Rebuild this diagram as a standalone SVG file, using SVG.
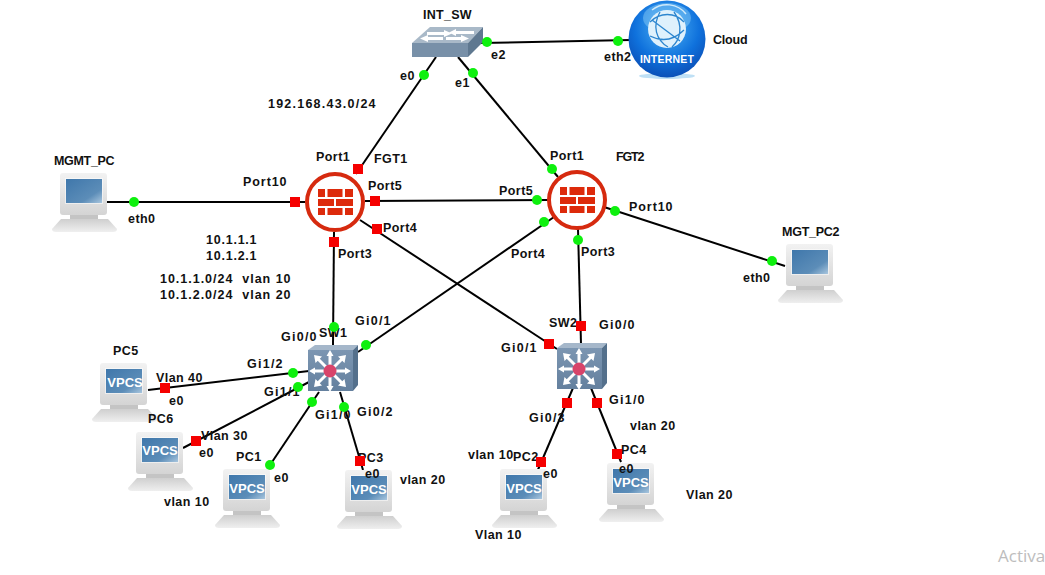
<svg xmlns="http://www.w3.org/2000/svg" width="1045" height="575" viewBox="0 0 1045 575">
<style>
text{font-family:"Liberation Sans",Arial,sans-serif;font-weight:700;font-size:12.5px;fill:#111;letter-spacing:.45px}
.ln{stroke:#000;stroke-width:2;fill:none}
.ok{fill:#0ef00e}
.dn{fill:#f50000}
.vp{font-size:13px;fill:#fff;letter-spacing:0;text-anchor:middle}
.wm{font-family:"Open Sans","Liberation Sans",sans-serif;font-weight:400;font-size:17px;fill:#bdbdbd;letter-spacing:0}
</style>
<defs>
<linearGradient id="bez" x1="0" y1="0" x2="0" y2="1"><stop offset="0" stop-color="#f2f2f2"/><stop offset="1" stop-color="#d4d4d4"/></linearGradient>
<linearGradient id="kbd" x1="0" y1="0" x2="0" y2="1"><stop offset="0" stop-color="#cfcfcf"/><stop offset="1" stop-color="#efefef"/></linearGradient>
<linearGradient id="scr" x1="0" y1="0" x2="1" y2="1"><stop offset="0" stop-color="#3f77ab"/><stop offset=".7" stop-color="#5c8db8"/><stop offset="1" stop-color="#a9c6de"/></linearGradient>
<radialGradient id="glb" cx=".5" cy=".35" r=".7"><stop offset="0" stop-color="#4fb4f5"/><stop offset=".6" stop-color="#0f71dc"/><stop offset="1" stop-color="#0a49b0"/></radialGradient>
<linearGradient id="l3f" x1="0" y1="0" x2="0" y2="1"><stop offset="0" stop-color="#7c96b2"/><stop offset="1" stop-color="#64809e"/></linearGradient>
<g id="pc">
<rect x="8" y="0" width="47" height="42" rx="3" fill="url(#bez)"/>
<rect x="13" y="5" width="38" height="26" fill="#fff" opacity=".5"/>
<rect x="14" y="6" width="36" height="24" fill="url(#scr)"/>
<rect x="18" y="42" width="28" height="4" fill="#c4c4c4"/>
<path d="M9 46H56L65 56Q65 59 61 59H4Q0 59 0 56Z" fill="url(#kbd)"/>
</g>
<g id="fw">
<circle r="28" fill="#fff" stroke="#d62a0f" stroke-width="4"/>
<g fill="#dd2a0b">
<rect x="-17" y="-13" width="7" height="8"/><rect x="-7.500" y="-13" width="15" height="8"/><rect x="10" y="-13" width="8" height="8"/>
<rect x="-17" y="-3" width="16" height="7"/><rect x="1" y="-3" width="17" height="7"/>
<rect x="-17" y="6" width="7" height="7"/><rect x="-7.500" y="6" width="15" height="7"/><rect x="10" y="6" width="8" height="7"/>
</g>
</g>
<g id="l3">
<path d="M0 5L7 0H50L45 5Z" fill="#a5b7ca"/>
<path d="M45 5L50 0V40L45 46Z" fill="#54708c"/>
<rect x="0" y="5" width="45" height="41" fill="url(#l3f)"/>
<g stroke="#fff" stroke-width="3" fill="none">
<path d="M5 26H39M22 9V43M10 14L34 38M34 14L10 38"/>
</g>
<g fill="#fff">
<path d="M1 26L7 22.500V29.500ZM43 26L37 22.500V29.500ZM22 5L18.500 11H25.500ZM22 47L18.500 41H25.500Z"/>
<path d="M6 10L14 11.500L7.500 18ZM38 10L30 11.500L36.500 18ZM6 42L14 40.500L7.500 34ZM38 42L30 40.500L36.500 34Z"/>
</g>
<circle cx="22" cy="26" r="6.500" fill="#d8446a"/>
</g>
</defs>
<rect width="1045" height="575" fill="#fff"/>

<g id="connectors">
<path class="ln" d="M480 43L630 40"/>
<path class="ln" d="M436 57L356 174"/>
<path class="ln" d="M458 57L558 177"/>
<path class="ln" d="M107 202H305"/>
<path class="ln" d="M365 201L548 200"/>
<path class="ln" d="M360 220L557 349"/>
<path class="ln" d="M334 232L333 345"/>
<path class="ln" d="M554 217L358 352"/>
<path class="ln" d="M578 229L581 344"/>
<path class="ln" d="M604 207L785 266"/>
<path class="ln" d="M148 390L309 371"/>
<path class="ln" d="M183 448L309 382"/>
<path class="ln" d="M319 392L268 468"/>
<path class="ln" d="M340 392L363 470"/>
<path class="ln" d="M573 388L537 472"/>
<path class="ln" d="M591 388L621 462"/>
</g>

<g id="INT_SW">
<path d="M412 43L430 27H483L468 43Z" fill="#a9b9c8"/>
<path d="M468 43L483 27V42L468 57Z" fill="#5f7890"/>
<rect x="412" y="43" width="56" height="14" fill="#7890a8"/>
<g fill="#fff">
<path d="M427 32H444V30L452 33.500L444 37V35H427Z"/>
<path d="M474 31H456V29L449 32.500L456 36V34H474Z"/>
<path d="M420 38.500L428 35V37H443V40H428V42Z"/>
<path d="M446 37H461V35L469 38.500L461 42V40H446Z"/>
</g>
<text x="423" y="19" textLength="49">INT_SW</text>
<text x="491" y="59">e2</text>
<text x="400" y="80">e0</text>
<text x="455" y="87">e1</text>
</g>

<g id="Cloud">
<ellipse cx="667" cy="76" rx="28" ry="3" fill="#bfe0f5"/>
<circle cx="667" cy="39" r="38.500" fill="url(#glb)"/>
<ellipse cx="667" cy="18" rx="24" ry="15" fill="#8fd0f8" opacity=".45"/>
<circle cx="667" cy="29" r="19" fill="#dff1fc"/>
<g stroke="#2d86cf" stroke-width="1.300" fill="none">
<path d="M650 22C660 12 675 12 684 22M650 36C662 42 674 40 684 30M660 12C652 26 656 40 668 47M674 12C684 26 680 40 672 47M652 20L680 41"/>
</g>
<path d="M652 10A24 24 0 0 1 686 14" stroke="#cfeafb" stroke-width="1.500" fill="none"/>
<text x="667" y="63" style="fill:#fff;font-size:10.500px;text-anchor:middle;letter-spacing:.2px">INTERNET</text>
<text x="713" y="44" textLength="35">Cloud</text>
<text x="604" y="61">eth2</text>
</g>

<g id="MGMT_PC">
<use href="#pc" x="52" y="173"/>
<text x="54" y="165" textLength="61">MGMT_PC</text>
<text x="128" y="223">eth0</text>
</g>

<g id="FGT1">
<use href="#fw" x="335" y="202"/>
<text x="374" y="163">FGT1</text>
<text x="316" y="161">Port1</text>
<text x="243" y="186" textLength="44">Port10</text>
<text x="368" y="190">Port5</text>
<text x="383" y="232">Port4</text>
<text x="338" y="258">Port3</text>
</g>

<g id="FGT2">
<use href="#fw" x="577" y="200"/>
<text x="616" y="161" textLength="29">FGT2</text>
<text x="550" y="160">Port1</text>
<text x="499" y="195">Port5</text>
<text x="629" y="211" textLength="44">Port10</text>
<text x="511" y="258">Port4</text>
<text x="581" y="256">Port3</text>
</g>

<g id="MGT_PC2">
<use href="#pc" x="778" y="244"/>
<text x="782" y="236" textLength="58">MGT_PC2</text>
<text x="743" y="282">eth0</text>
</g>

<g id="SW1">
<use href="#l3" x="308" y="345"/>
<text x="319" y="337">SW1</text>
<text x="281" y="341" textLength="36">Gi0/0</text>
<text x="355" y="325" textLength="36">Gi0/1</text>
<text x="247" y="368" textLength="36">Gi1/2</text>
<text x="264" y="396" textLength="36">Gi1/1</text>
<text x="315" y="419" textLength="36">Gi1/0</text>
<text x="357" y="416" textLength="36">Gi0/2</text>
</g>

<g id="SW2">
<use href="#l3" x="557" y="343"/>
<text x="549" y="327">SW2</text>
<text x="599" y="329" textLength="36">Gi0/0</text>
<text x="501" y="352" textLength="36">Gi0/1</text>
<text x="529" y="422" textLength="36">Gi0/3</text>
<text x="609" y="404" textLength="36">Gi1/0</text>
</g>

<g id="PC5">
<use href="#pc" x="92" y="363"/><text class="vp" x="125" y="387">VPCS</text>
<text x="113" y="355">PC5</text><text x="156" y="382">Vlan 40</text><text x="169" y="405">e0</text>
</g>
<g id="PC6">
<use href="#pc" x="128" y="432"/><text class="vp" x="160" y="455">VPCS</text>
<text x="148" y="423">PC6</text><text x="201" y="440">Vlan 30</text><text x="199" y="457">e0</text>
</g>
<g id="PC1">
<use href="#pc" x="215" y="469"/><text class="vp" x="247" y="493">VPCS</text>
<text x="236" y="461">PC1</text><text x="274" y="482">e0</text><text x="164" y="506">vlan 10</text>
</g>
<g id="PC3">
<use href="#pc" x="337" y="470"/><text class="vp" x="369" y="494">VPCS</text>
<text x="358" y="462">PC3</text><text x="365" y="478">e0</text><text x="400" y="484">vlan 20</text>
</g>
<g id="PC2">
<use href="#pc" x="492" y="469"/><text class="vp" x="524" y="493">VPCS</text>
<text x="468" y="459">vlan 10</text><text x="513" y="461">PC2</text><text x="543" y="478">e0</text><text x="475" y="539">Vlan 10</text>
</g>
<g id="PC4">
<use href="#pc" x="599" y="463"/><text class="vp" x="631" y="487">VPCS</text>
<text x="621" y="454">PC4</text><text x="619" y="473">e0</text><text x="630" y="430">vlan 20</text><text x="686" y="499">Vlan 20</text>
</g>

<g id="ports">
<g class="ok">
<circle cx="487" cy="42" r="5"/><circle cx="618" cy="41" r="5"/><circle cx="424" cy="75" r="5"/><circle cx="473" cy="73" r="5"/>
<circle cx="134" cy="202" r="5"/><circle cx="552" cy="169" r="5"/><circle cx="537" cy="200" r="5"/><circle cx="544" cy="222" r="5"/>
<circle cx="578" cy="240" r="5"/><circle cx="615" cy="211" r="5"/><circle cx="772" cy="261" r="5"/>
<circle cx="334" cy="327" r="5"/><circle cx="366" cy="345" r="5"/><circle cx="293" cy="373" r="5"/><circle cx="298" cy="387" r="5"/>
<circle cx="312" cy="402" r="5"/><circle cx="344" cy="407" r="5"/><circle cx="270" cy="465" r="5"/>
</g>
<g class="dn">
<rect x="353" y="164" width="10" height="10"/><rect x="290" y="197" width="10" height="10"/><rect x="370" y="196" width="10" height="10"/>
<rect x="372" y="224" width="10" height="10"/><rect x="329" y="237" width="10" height="10"/><rect x="576" y="321" width="10" height="10"/>
<rect x="544" y="339" width="10" height="10"/><rect x="562" y="398" width="10" height="10"/><rect x="592" y="398" width="10" height="10"/>
<rect x="536" y="457" width="10" height="10"/><rect x="612" y="449" width="10" height="10"/><rect x="160" y="383" width="10" height="10"/>
<rect x="191" y="436" width="10" height="10"/><rect x="355" y="456" width="10" height="10"/>
</g>
</g>

<g id="notes">
<text x="268" y="108" textLength="108">192.168.43.0/24</text>
<text x="206" y="244" textLength="51">10.1.1.1</text>
<text x="206" y="260" textLength="51">10.1.2.1</text>
<text x="160" y="283" xml:space="preserve" textLength="131">10.1.1.0/24  vlan 10</text>
<text x="160" y="299" xml:space="preserve" textLength="131">10.1.2.0/24  vlan 20</text>
<text class="wm" x="998" y="562">Activa</text>
</g>
</svg>
